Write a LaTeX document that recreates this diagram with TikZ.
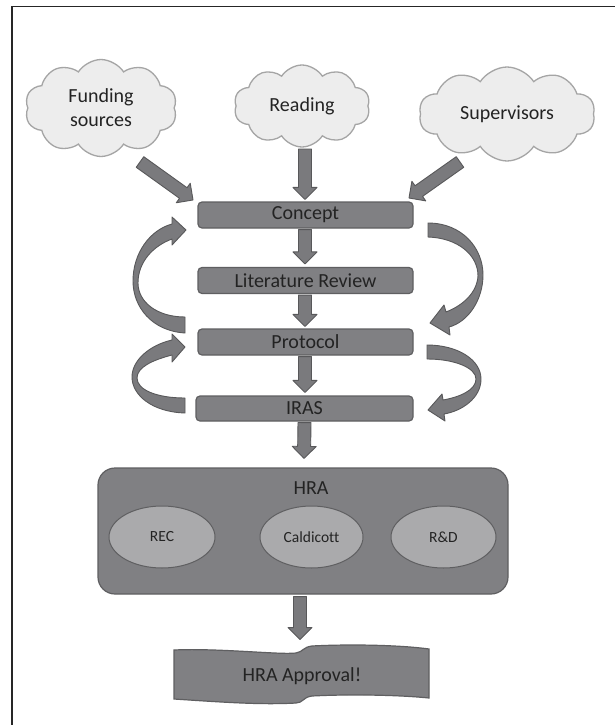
\documentclass[tikz,border=0pt]{standalone}
\usepackage{fontspec}
\setmainfont{Carlito}[Ligatures=NoCommon]
\usetikzlibrary{shapes.symbols,shapes.geometric,calc}
\definecolor{boxfill}{RGB}{128,128,131}
\definecolor{boxline}{RGB}{95,95,97}
\definecolor{ellfill}{RGB}{170,170,172}
\definecolor{cloudfill}{RGB}{237,237,237}
\definecolor{cloudline}{RGB}{165,165,165}
\definecolor{arrfill}{RGB}{122,122,125}
\definecolor{arrline}{RGB}{88,88,90}
\definecolor{txt}{RGB}{35,35,35}
\tikzset{
  bigtext/.style={text=txt, font=\fontsize{20}{24}\selectfont},
  stepbox/.style={bigtext, draw=boxline, fill=boxfill, line width=1.2pt, rounded corners=4pt,
    minimum width=215pt, minimum height=26pt, inner sep=0pt},
  cloudbox/.style={bigtext, cloud, cloud puffs=10, cloud puff arc=115, cloud ignores aspect,
    draw=cloudline, fill=cloudfill, line width=1.3pt, align=center, inner sep=0pt},
  hrabox/.style={draw=boxline, fill=boxfill, line width=1.2pt, rounded corners=17pt,
    minimum width=410pt, minimum height=126pt},
  ellbox/.style={ellipse, draw=boxline, fill=ellfill, line width=1pt, minimum width=106pt,
    minimum height=62pt, inner sep=0pt, text=txt, font=\fontsize{15.5}{18}\selectfont},
  blockarrow/.style={fill=arrfill, draw=arrline, line width=0.9pt, line join=round},
}
\newcommand\barrow[2]{%
  \filldraw[blockarrow] let \p1=(#1), \p2=(#2), \n1={atan2(\y2-\y1,\x2-\x1)},
    \p3=($(\p2)+(\n1+180:12pt)$) in
    ($(\p1)+(\n1+90:6.5pt)$) -- ($(\p3)+(\n1+90:6.5pt)$) -- ($(\p3)+(\n1+90:12pt)$) -- (\p2)
    -- ($(\p3)+(\n1-90:12pt)$) -- ($(\p3)+(\n1-90:6.5pt)$) -- ($(\p1)+(\n1-90:6.5pt)$) -- cycle;}
\begin{document}
\begin{tikzpicture}[x=1pt,y=-1pt]
\useasboundingbox (0,0) rectangle (615,725);
\fill[white] (0,0) rectangle (615,725);
% frame
\draw[line width=1.6pt, black!85] (12,730) -- (12,6.5) -- (620,6.5);

% clouds
\node[cloudbox, minimum width=152pt, minimum height=97pt] (fund) at (101,108) {Funding\\sources};
\node[cloudbox, minimum width=136pt, minimum height=82pt] (read) at (302,106) {Reading};
\node[cloudbox, minimum width=176pt, minimum height=94pt] (sup) at (507,114) {Supervisors};

% steps
\node[stepbox] (concept) at (305.5,215) {Concept};
\node[stepbox] (litrev) at (305.5,280.5) {Literature Review};
\node[stepbox] (protocol) at (305.5,342) {Protocol};
\node[stepbox, minimum width=217pt, minimum height=25pt] (iras) at (304.5,408.5) {IRAS};

% HRA
\node[hrabox] (hra) at (303,531) {};
\node[bigtext] (hralabel) at (311,488) {HRA};
\node[ellbox] (rec) at (162,537) {REC};
\node[ellbox, minimum width=103pt] (cald) at (311.5,537) {Caldicott};
\node[ellbox, minimum width=105pt] (rd) at (443.5,537) {R\&D};

% approval banner
\filldraw[fill=boxfill, draw=boxline, line width=1.2pt]
  (174,650) .. controls (220,648) and (280,655) .. (296,653)
  .. controls (303,652) and (303,647) .. (312,646)
  .. controls (350,644) and (400,645) .. (429,649) -- (429,698)
  .. controls (400,695) and (350,694) .. (312,696)
  .. controls (303,697) and (303,703) .. (296,703)
  .. controls (260,705) and (220,702) .. (174,699) -- cycle;
\node[bigtext] (approval) at (302,676) {HRA Approval!};

% straight block arrows
\coordinate (fa) at (140,162);
\coordinate (fb) at (193,200);
\coordinate (ra) at (305,149);
\coordinate (sa) at (460,162);
\coordinate (sb) at (409,198);
\barrow{fa}{fb}
\barrow{ra}{$(concept.north)+(-0.5,-2)$}
\barrow{sa}{sb}
\barrow{$(concept.south)+(-0.5,1)$}{$(litrev.north)+(-0.5,-3)$}
\barrow{$(litrev.south)+(-0.5,1)$}{$(protocol.north)+(-0.5,-2)$}
\barrow{$(protocol.south)+(-0.5,1)$}{$(iras.north)+(0.5,-3)$}
\barrow{$(iras.south)+(0,1)$}{$(hra.north)+(1,-9)$}
\barrow{$(hra.south)+(-3,2)$}{$(hra.south)+(-3,45)$}

% curved block arrows (left)
\filldraw[blockarrow]
  (185,333) .. controls (152,331) and (133,307) .. (133,281)
  .. controls (133,253) and (150,230) .. (172,224) -- (172,217) -- (186,230) -- (172,245) -- (172,239)
  .. controls (153,246) and (138,262) .. (138,283)
  .. controls (138,302) and (157,317) .. (185,317) -- cycle;
\filldraw[blockarrow]
  (185,413) .. controls (152,412) and (132,395) .. (132,377)
  .. controls (132,360) and (150,345) .. (172,340) -- (172,334) -- (185,347) -- (172,362) -- (172,355)
  .. controls (153,360) and (137,367) .. (137,378)
  .. controls (137,390) and (157,398) .. (185,398) -- cycle;
% curved block arrows (right)
\filldraw[blockarrow]
  (428,223) .. controls (462,223) and (483,248) .. (483,275)
  .. controls (483,300) and (468,322) .. (449,327) -- (450,335) -- (430,323) -- (444,305) -- (446,312)
  .. controls (464,305) and (477,292) .. (478,276)
  .. controls (478,255) and (458,238) .. (428,237) -- cycle;
\filldraw[blockarrow]
  (427,345) .. controls (458,345) and (481,360) .. (481,379)
  .. controls (481,398) and (462,411) .. (444,414) -- (445,421) -- (428,410) -- (442,394) -- (443,400)
  .. controls (460,397) and (476,390) .. (476,379)
  .. controls (476,368) and (455,359) .. (427,359) -- cycle;
\end{tikzpicture}
\end{document}
